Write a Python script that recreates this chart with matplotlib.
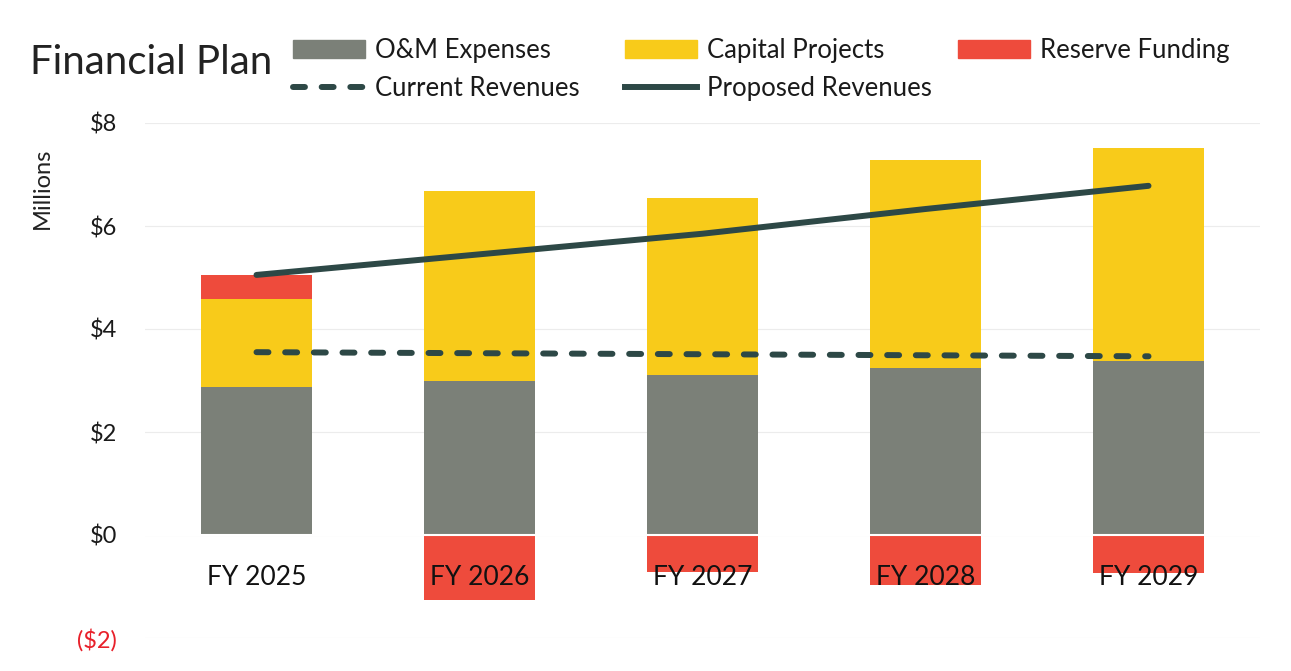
import matplotlib
matplotlib.use("Agg")
import matplotlib.pyplot as plt
from matplotlib.lines import Line2D
from matplotlib.patches import Patch
import numpy as np

plt.rcParams['font.family'] = ['Lato', 'DejaVu Sans']

categories = ["FY 2025", "FY 2026", "FY 2027", "FY 2028", "FY 2029"]
om_expenses = [2.87, 2.99, 3.11, 3.24, 3.38]
capital_projects = [1.71, 3.69, 3.43, 4.04, 4.13]
reserve_funding = [0.47, -1.26, -0.72, -0.97, -0.74]
current_revenues = [3.55, 3.53, 3.51, 3.49, 3.47]
proposed_revenues = [5.05, 5.45, 5.85, 6.33, 6.78]
yticks = [-2, 0, 2, 4, 6, 8]

C_OM = '#7b8078'
C_CAP = '#f8cb1a'
C_RES = '#ee4b3c'
C_LINE = '#2d4846'

fig = plt.figure(figsize=(12.91, 6.71), dpi=100)
ax = fig.add_axes([145/1291, 1-638/671, 1115/1291, 515/671])

x = np.arange(len(categories))
w = 0.5
om = np.array(om_expenses)
cap = np.array(capital_projects)
res = np.array(reserve_funding)
ax.bar(x, om, w, color=C_OM, zorder=2)
ax.bar(x, cap, w, bottom=om, color=C_CAP, zorder=2)
res_bottom = np.where(res > 0, om + cap, 0)
ax.bar(x, res, w, bottom=res_bottom, color=C_RES, zorder=2)
ax.axhline(0, color='white', lw=1.5, zorder=3)

ax.plot(x, current_revenues, color=C_LINE, lw=4.3, dashes=(2.0, 2.8),
        dash_capstyle='round', zorder=4)
ax.plot(x, proposed_revenues, color=C_LINE, lw=4.3, solid_capstyle='round', zorder=4)

ax.set_xlim(-0.5, 4.5)
ax.set_ylim(-2, 8)
ax.set_yticks(yticks)
ax.set_yticklabels([f"${v}" if v >= 0 else f"(${-v})" for v in yticks], fontsize=17)
for lbl, v in zip(ax.get_yticklabels(), yticks):
    if v < 0:
        lbl.set_color('#e8202a')
    else:
        lbl.set_color('#1a1a1a')
ax.tick_params(axis='y', length=0, pad=20)
ax.set_xticks([])
ax.grid(axis='y', color='#ececec', lw=0.8, zorder=0)
for s in ax.spines.values():
    s.set_visible(False)

for i, c in enumerate(categories):
    ax.text(i, -0.83, c, ha='center', va='center', fontsize=19, color='#111111', zorder=5)

fig.text(30/1291, 1-62/671, "Financial Plan", fontsize=29, va='center', ha='left', color='#222222')
fig.text(42/1291, 1-188/671, "Millions", fontsize=17, rotation=90, va='center', ha='center', color='#222222')

columns = [
    ([Patch(color=C_OM), Line2D([], [], color=C_LINE, lw=4.3, dashes=(2.0, 2.8), dash_capstyle='round')],
     ["O&M Expenses", "Current Revenues"], 293),
    ([Patch(color=C_CAP), Line2D([], [], color=C_LINE, lw=4.3)],
     ["Capital Projects", "Proposed Revenues"], 625),
    ([Patch(color=C_RES)], ["Reserve Funding"], 958),
]
for hs, ls, xp in columns:
    leg = fig.legend(hs, ls, ncol=1, loc='upper left', bbox_to_anchor=(xp/1291, 1-38/671),
                     frameon=False, fontsize=18.5, handlelength=2.8, handleheight=0.7, handletextpad=0.4,
                     borderpad=0, borderaxespad=0, labelspacing=0.5)
    for t in leg.get_texts():
        t.set_color('#1a1a1a')

fig.savefig("out.png", dpi=100, facecolor='white')
